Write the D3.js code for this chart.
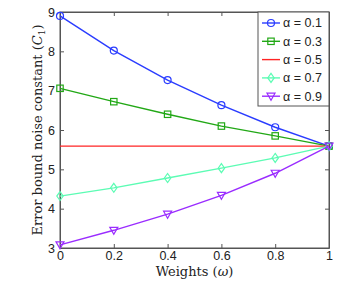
<!DOCTYPE html>
<html>
<head>
<meta charset="utf-8">
<script src="https://cdn.jsdelivr.net/npm/d3@7"></script>
<style>
  body { margin: 0; background: #fff; }
  svg { display: block; }
</style>
</head>
<body>
<svg id="chart" width="363" height="291"></svg>
<script>
// data
var weights = [0, 0.2, 0.4, 0.6, 0.8, 1];
var alphaLabels = ["α = 0.1", "α = 0.3", "α = 0.5", "α = 0.7", "α = 0.9"];
var a01 = [8.9, 8.02, 7.27, 6.63, 6.07, 5.59];
var a03 = [7.06, 6.72, 6.40, 6.10, 5.85, 5.59];
var a05 = [5.59, 5.59, 5.59, 5.59, 5.59, 5.59];
var a07 = [4.32, 4.53, 4.78, 5.03, 5.29, 5.59];
var a09 = [3.08, 3.45, 3.86, 4.34, 4.90, 5.59];
var xTicks = [0, 0.2, 0.4, 0.6, 0.8, 1];
var yTicks = [3, 4, 5, 6, 7, 8, 9];

var series = [
  { name: alphaLabels[0], values: a01, color: "#2a3cff", marker: "circle" },
  { name: alphaLabels[1], values: a03, color: "#22a816", marker: "square" },
  { name: alphaLabels[2], values: a05, color: "#ff2424", marker: "none" },
  { name: alphaLabels[3], values: a07, color: "#5cfcb4", marker: "diamond" },
  { name: alphaLabels[4], values: a09, color: "#9a2cff", marker: "triangle" }
];

var margin = { left: 60, top: 12, right: 34, bottom: 43 };
var width = 363 - margin.left - margin.right,
    height = 291 - margin.top - margin.bottom;

var svg = d3.select("#chart");
var g = svg.append("g").attr("transform", "translate(" + margin.left + "," + margin.top + ")");

var x = d3.scaleLinear().domain([0, 1]).range([0, width]);
var y = d3.scaleLinear().domain([3, 9]).range([height, 0]);

// box
g.append("rect")
  .attr("width", width).attr("height", height)
  .attr("fill", "none").attr("stroke", "#555").attr("stroke-width", 1);

var xAxis = g.append("g").attr("transform", "translate(0," + height + ")")
  .call(d3.axisBottom(x).tickValues(xTicks).tickSizeInner(-4).tickSizeOuter(0).tickPadding(6)
    .tickFormat(function(d) { return d3.format("")(d); }));
var xAxisTop = g.append("g")
  .call(d3.axisTop(x).tickValues(xTicks).tickSizeInner(-4).tickSizeOuter(0).tickFormat(""));
var yAxis = g.append("g")
  .call(d3.axisLeft(y).tickValues(yTicks).tickSizeInner(-4).tickSizeOuter(0).tickPadding(5)
    .tickFormat(d3.format("d")));
var yAxisRight = g.append("g").attr("transform", "translate(" + width + ",0)")
  .call(d3.axisRight(y).tickValues(yTicks).tickSizeInner(-4).tickSizeOuter(0).tickFormat(""));

[xAxis, xAxisTop, yAxis, yAxisRight].forEach(function(a) {
  a.select(".domain").attr("stroke", "#555");
  a.selectAll(".tick line").attr("stroke", "#555");
  a.selectAll("text").attr("font-family", "Liberation Sans, Arial, sans-serif")
    .attr("font-size", 12.5).attr("fill", "#222");
});
xAxis.selectAll("text").attr("dy", "0.5em");

var line = d3.line()
  .x(function(d, i) { return x(weights[i]); })
  .y(function(d) { return y(d); });

function drawMarker(sel, type, color, cx, cy) {
  if (type === "circle") {
    sel.append("circle").attr("cx", cx).attr("cy", cy).attr("r", 3.5)
      .attr("fill", "none").attr("stroke", color).attr("stroke-width", 1.2);
  } else if (type === "square") {
    sel.append("rect").attr("x", cx - 3.2).attr("y", cy - 3.2).attr("width", 6.4).attr("height", 6.4)
      .attr("fill", "none").attr("stroke", color).attr("stroke-width", 1.2);
  } else if (type === "diamond") {
    sel.append("path").attr("d", "M" + cx + "," + (cy - 4.5) + "L" + (cx + 3.2) + "," + cy +
        "L" + cx + "," + (cy + 4.5) + "L" + (cx - 3.2) + "," + cy + "Z")
      .attr("fill", "none").attr("stroke", color).attr("stroke-width", 1.2);
  } else if (type === "triangle") {
    sel.append("path").attr("d", "M" + (cx - 4) + "," + (cy - 3) + "L" + (cx + 4) + "," + (cy - 3) +
        "L" + cx + "," + (cy + 4) + "Z")
      .attr("fill", "none").attr("stroke", color).attr("stroke-width", 1.2);
  }
}

series.forEach(function(s) {
  g.append("path").datum(s.values)
    .attr("d", line).attr("fill", "none")
    .attr("stroke", s.color).attr("stroke-width", 1.4);
  if (s.marker !== "none") {
    var mg = g.append("g");
    s.values.forEach(function(v, i) {
      drawMarker(mg, s.marker, s.color, x(weights[i]), y(v));
    });
  }
});

// legend
var lg = g.append("g").attr("transform", "translate(" + (width - 71) + ",0)");
lg.append("rect").attr("width", 71).attr("height", 94)
  .attr("fill", "#fff").attr("stroke", "#555").attr("stroke-width", 1);
series.forEach(function(s, i) {
  var ly = 11 + i * 18.3;
  lg.append("line").attr("x1", 4).attr("x2", 22).attr("y1", ly).attr("y2", ly)
    .attr("stroke", s.color).attr("stroke-width", 1.4);
  drawMarker(lg, s.marker, s.color, 13, ly);
  lg.append("text").attr("x", 25).attr("y", ly).attr("dy", "0.35em")
    .attr("font-family", "Liberation Sans, Arial, sans-serif").attr("font-size", 12.5)
    .attr("fill", "#222").text(s.name);
});

// axis labels
svg.append("text")
  .attr("x", margin.left + width / 2).attr("y", 276)
  .attr("text-anchor", "middle")
  .attr("font-family", "DejaVu Serif, Liberation Serif, serif").attr("font-size", 13)
  .attr("fill", "#222")
  .html('Weights (<tspan font-style="italic">ω</tspan>)');

svg.append("text")
  .attr("transform", "translate(42," + (margin.top + height / 2) + ") rotate(-90)")
  .attr("text-anchor", "middle")
  .attr("font-family", "DejaVu Serif, Liberation Serif, serif").attr("font-size", 13)
  .attr("fill", "#222")
  .html('Error bound noise constant (<tspan font-style="italic">C</tspan><tspan font-size="9" dy="3">1</tspan><tspan dy="-3">)</tspan>');
</script>
</body>
</html>
